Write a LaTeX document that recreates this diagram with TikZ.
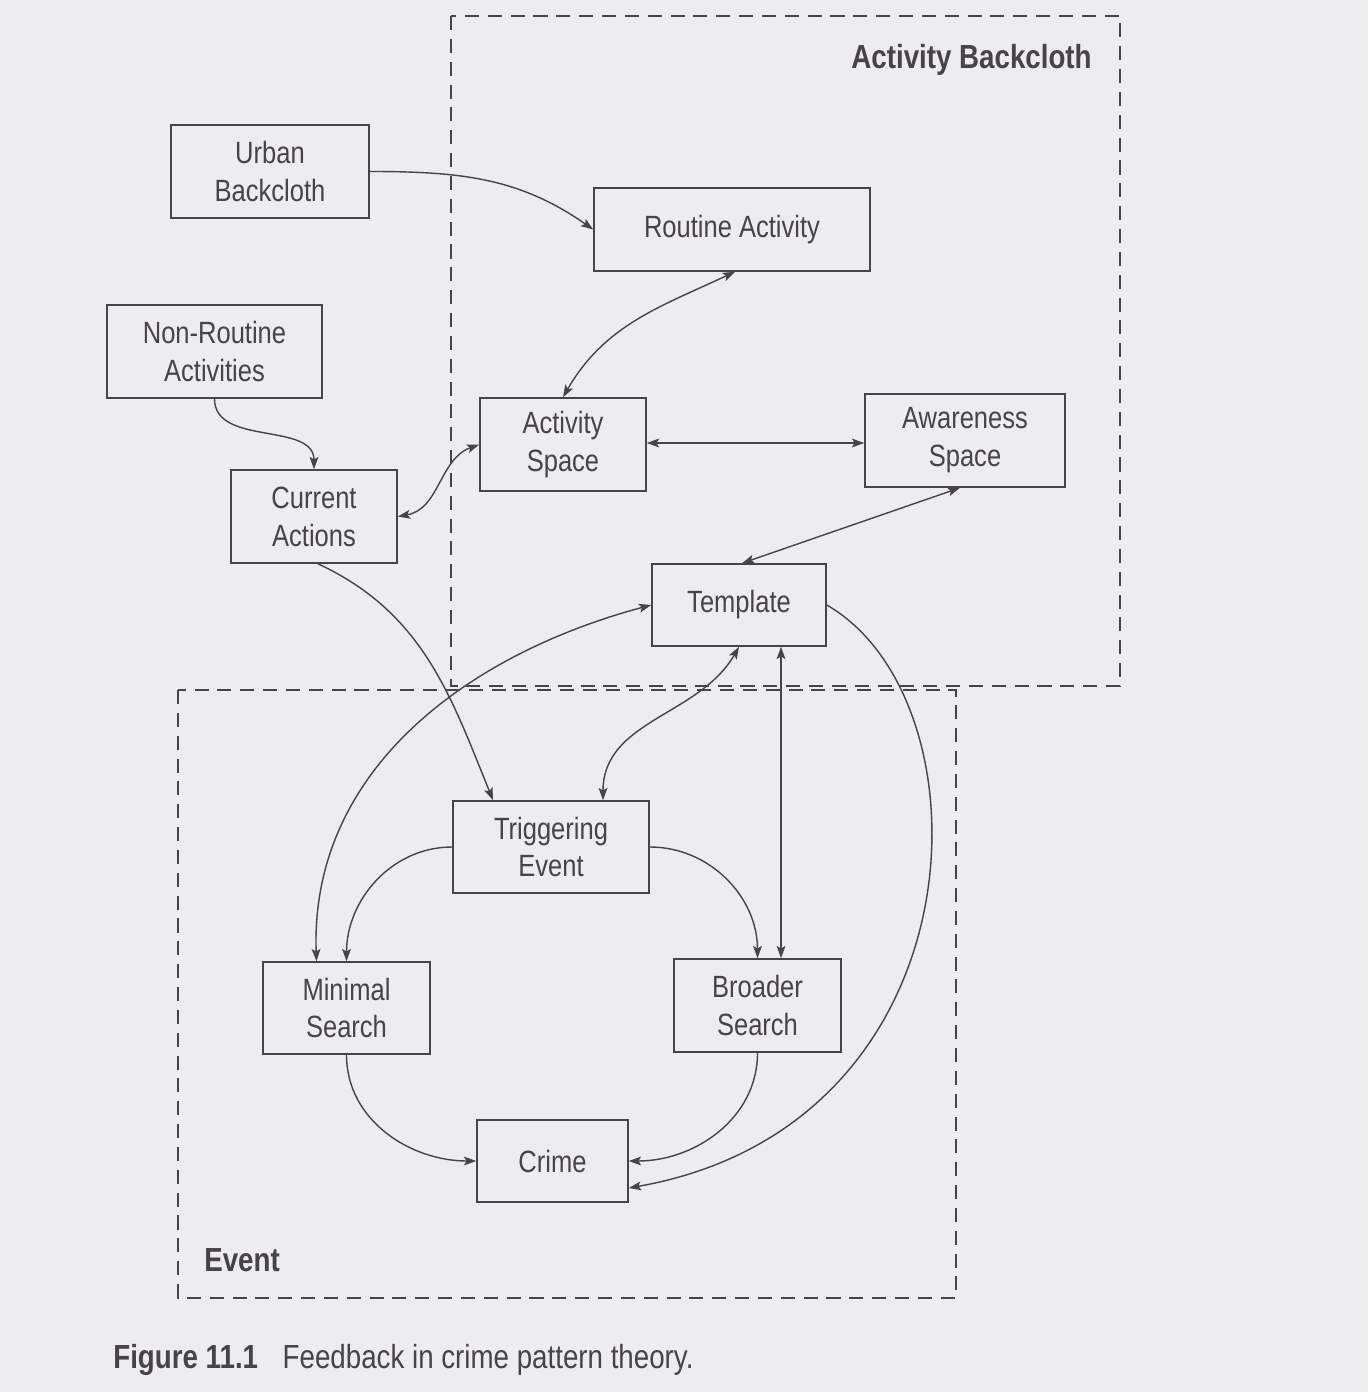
\documentclass[tikz,border=0pt]{standalone}
\usepackage{fontspec}
\setmainfont[FakeStretch=0.83]{Liberation Sans}
\usetikzlibrary{arrows.meta}
\definecolor{ink}{RGB}{72,66,74}
\definecolor{paper}{RGB}{237,236,238}
\begin{document}
\begin{tikzpicture}[auto,
    >={Stealth[length=7pt,width=5pt,inset=1.5pt]},
    link/.style={draw=ink,line width=0.8pt},
    box/.style={draw=ink,line width=0.9pt,align=center,inner sep=0pt,text=ink,
      font=\fontsize{17.5}{21.6}\selectfont},
    region/.style={draw=ink,line width=0.9pt,dash pattern=on 8pt off 5pt},
    tag/.style={text=ink,inner sep=0pt,font=\fontsize{19}{22}\selectfont\bfseries}]
    \fill[paper] (0,0) rectangle (27.36,-27.84);
    \useasboundingbox (0,0) rectangle (27.36,-27.84);
    \draw[region] (9.02,-0.32) rectangle (22.40,-13.72);
    \draw[region] (3.56,-13.80) rectangle (19.12,-25.96);
    \node[tag,anchor=east] (ab) at (21.84,-1.20) {Activity Backcloth};
    \node[tag,anchor=west] (ev) at (4.08,-25.20) {Event};
    \node[box,minimum width=3.96cm,minimum height=1.86cm] (ub) at (5.40,-3.43) {Urban\\Backcloth};
    \node[box,minimum width=5.52cm,minimum height=1.66cm] (ra) at (14.64,-4.59) {Routine Activity};
    \node[box,minimum width=4.30cm,minimum height=1.86cm] (nr) at (4.29,-7.03) {Non-Routine\\Activities};
    \node[box,minimum width=3.32cm,minimum height=1.86cm] (as) at (11.26,-8.89) {Activity\\Space};
    \node[box,minimum width=4.00cm,minimum height=1.86cm] (aw) at (19.30,-8.81) {Awareness\\Space};
    \node[box,minimum width=3.32cm,minimum height=1.86cm] (ca) at (6.28,-10.33) {Current\\Actions};
    \node[box,minimum width=3.48cm,minimum height=1.64cm] (tp) at (14.78,-12.10) {Template};
    \node[box,minimum width=3.92cm,minimum height=1.84cm] (te) at (11.02,-16.94) {Triggering\\Event};
    \node[box,minimum width=3.34cm,minimum height=1.84cm] (ms) at (6.93,-20.16) {Minimal\\Search};
    \node[box,minimum width=3.34cm,minimum height=1.86cm] (bs) at (15.15,-20.11) {Broader\\Search};
    \node[box,minimum width=3.02cm,minimum height=1.64cm] (cr) at (11.05,-23.22) {Crime};
    \node[tag,anchor=west,font=\fontsize{19}{22}\selectfont] (cap) at (2.26,-27.20)
      {\textbf{Figure 11.1}\hspace{14pt}Feedback in crime pattern theory.};
    \draw [link,->] (ub.east) to[out=0,in=145] (ra.west);
    \draw [link,<->] ([xshift=0.06cm]ra.south) to[out=205,in=60] (as.north);
    \draw [link,->] (nr.south) to[out=-90,in=90] (ca.north);
    \draw [link,<->] (ca.east) to[out=10,in=200] (as.west);
    \draw [link,<->] ([yshift=0.03cm]as.east) -- ([yshift=0.03cm]as.east -| aw.west);
    \draw [link,<->] ([xshift=-0.1cm]aw.south) -- ([xshift=0.06cm]tp.north);
    \draw [link,->] ([xshift=0.08cm]ca.south) to[out=-25,in=112] ([xshift=-1.16cm]te.north);
    \draw [link,<->] (tp.west) to[out=195,in=92] ([xshift=-0.6cm]ms.north);
    \draw [link,->] (te.west) to[out=180,in=90] (ms.north);
    \draw [link,->] (te.east) to[out=0,in=90] (bs.north);
    \draw [link,<->] ([xshift=1.04cm]te.north) to[out=90,in=240] (tp.south);
    \draw [link,<->] ([xshift=0.84cm]tp.south) -- ([xshift=0.84cm]tp.south |- bs.north);
    \draw [link,->] (tp.east) to[out=-30,in=10,out looseness=0.8,in looseness=1.5] ([yshift=-0.54cm]cr.east);
    \draw [link,->] (ms.south) to[out=-90,in=180] (cr.west);
    \draw [link,->] (bs.south) to[out=-90,in=0] (cr.east);
  \end{tikzpicture}
\end{document}
